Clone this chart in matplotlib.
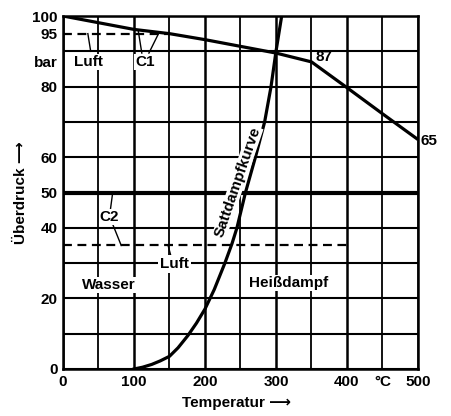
import matplotlib
matplotlib.use("Agg")
import matplotlib.pyplot as plt

# ---- data ----
c1_temp = [0, 100, 150, 200, 300, 350, 400, 450, 500]
c1_press = [100, 96.2, 95.0, 93.3, 89.5, 87, 79.7, 72.3, 65]

sat_temp = [100, 112, 125, 137, 150, 162, 176, 188, 200, 213, 228, 238, 245, 257, 271, 284, 293, 300, 308]
sat_press = [0, 0.5, 1.3, 2.3, 3.6, 6.0, 9.5, 13.0, 17.0, 22.5, 30.0, 35.5, 40, 50, 60, 70, 80, 90, 100]

luft_top_temp = [0, 150]
luft_top_press = [95, 95]
luft_low_temp = [0, 400]
luft_low_press = [35, 35]
c2_press = 50

xtick_vals = [0, 100, 200, 300, 400, 450, 500]
xtick_labels = ["0", "100", "200", "300", "400", "°C", "500"]
ytick_vals = [0, 20, 40, 50, 60, 80, 87, 95, 100]
ytick_labels = ["0", "20", "40", "50", "60", "80", "bar", "95", "100"]

plt.rcParams["font.family"] = ["Liberation Sans", "DejaVu Sans"]
FW = "bold"
FS = 11
fig = plt.figure(figsize=(4.51, 4.16), dpi=100)
ax = fig.add_axes([63 / 451, 47 / 416, 355 / 451, 353 / 416])
ax.set_xlim(0, 500)
ax.set_ylim(0, 100)

# grid
for x in range(0, 501, 50):
    ax.axvline(x, color="black", lw=1.8 if x % 100 == 0 else 1.3, zorder=1)
for y in range(0, 101, 10):
    ax.axhline(y, color="black", lw=1.5, zorder=1)
ax.axhline(c2_press, color="black", lw=3.0, zorder=2)

for s in ax.spines.values():
    s.set_linewidth(1.8)

# curves
ax.plot(c1_temp, c1_press, color="black", lw=2.3, zorder=3, solid_capstyle="butt")
ax.plot(sat_temp, sat_press, color="black", lw=2.3, zorder=3)
ax.plot(luft_top_temp, luft_top_press, color="black", lw=1.6, ls=(0, (4, 2.5)), zorder=3)
ax.plot(luft_low_temp, luft_low_press, color="black", lw=1.6, ls=(0, (4, 2.5)), zorder=3)

tk = dict(fontsize=FS, fontweight=FW)
ax.set_xticks(xtick_vals)
ax.set_xticklabels(xtick_labels, **tk)
ax.set_yticks(ytick_vals)
ax.set_yticklabels(ytick_labels, **tk)
ax.tick_params(length=0, pad=4)

wb = dict(facecolor="white", edgecolor="none", pad=0.5)
txt = dict(fontsize=FS, fontweight=FW, ha="center", va="center", zorder=5)

ax.text(36, 87, "Luft", bbox=wb, **txt)
ax.plot([35, 39], [95, 90], color="black", lw=1.0, zorder=4)
ax.text(115, 87, "C1", bbox=wb, **txt)
ax.plot([106, 111], [95.8, 89.5], color="black", lw=1.0, zorder=4)
ax.plot([135, 121], [95.2, 89.5], color="black", lw=1.0, zorder=4)
ax.text(368, 88.5, "87", **txt)
ax.text(515, 64.5, "65", clip_on=False, **txt)

ax.text(65, 43, "C2", bbox=wb, **txt)
ax.plot([70, 67], [50, 45.5], color="black", lw=1.0, zorder=4)
ax.plot([70, 82], [41, 35], color="black", lw=1.0, zorder=4)
ax.text(157, 29.8, "Luft", bbox=dict(facecolor="white", edgecolor="none", pad=1.5), **txt)
ax.plot([148, 152], [35, 32], color="black", lw=1.0, zorder=4)

ax.text(64, 23.8, "Wasser", bbox=wb, **txt)
ax.text(318, 24.3, "Heißdampf", bbox=wb, **txt)
ax.text(246, 53, "Sattdampfkurve", rotation=71, rotation_mode="anchor",
        bbox=dict(facecolor="white", edgecolor="none", pad=0.2), **txt)

ax.text(-0.118, 0.5, "Überdruck ⟶", rotation=90, transform=ax.transAxes,
        fontsize=FS, fontweight=FW, ha="center", va="center")
ax.text(0.49, -0.097, "Temperatur ⟶", transform=ax.transAxes,
        fontsize=FS, fontweight=FW, ha="center", va="center")

fig.savefig("out.png", dpi=100)
